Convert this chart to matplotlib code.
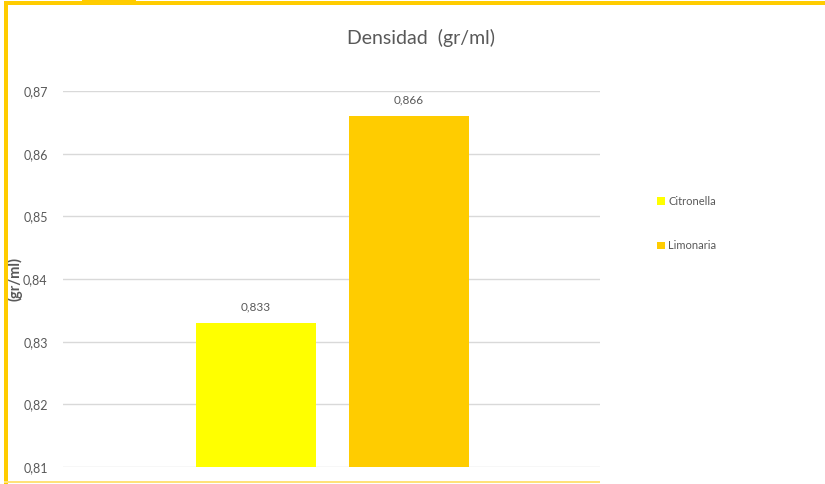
import matplotlib
matplotlib.use("Agg")
import matplotlib.pyplot as plt
import matplotlib.patches as patches
from matplotlib.ticker import FuncFormatter, MultipleLocator

# Data
series = ["Citronella", "Limonaria"]
values = [0.833, 0.866]
colors = ["#FFFF00", "#FFCC00"]
value_labels = ["0,833", "0,866"]

TEXT = "#595959"
GRID = "#D9D9D9"
BORDER = "#FFCC00"

plt.rcParams["font.family"] = ["Lato", "DejaVu Sans"]

fig = plt.figure(figsize=(8.25, 4.84), dpi=100)
ax = fig.add_axes([63 / 825, 1 - 467 / 484, (600 - 63) / 825, (467 - 91) / 484])

width = 120 / 153
positions = [0, 1]
for pos, val, col, name, lab in zip(positions, values, colors, series, value_labels):
    ax.bar(pos, val, width=width, color=col, label=name, zorder=3)
    ax.text(pos, val + 0.0017, lab, ha="center", va="bottom",
            fontsize=8.5, color=TEXT, zorder=4)

ax.set_xlim(0.5 - (332.5 - 63) / 153, 0.5 + (600 - 332.5) / 153)
ax.set_ylim(0.81, 0.87)
ax.yaxis.set_major_locator(MultipleLocator(0.01))
ax.yaxis.set_major_formatter(FuncFormatter(lambda v, p: f"{v:.2f}".replace(".", ",")))
ax.set_xticks([])
ax.tick_params(axis="y", length=0, pad=11, labelsize=9, labelcolor=TEXT)
ax.grid(axis="y", color=GRID, linewidth=1.0, zorder=0)
for s in ax.spines.values():
    s.set_visible(False)

ax.set_ylabel("(gr/ml)", fontsize=10.5, color=TEXT, fontweight="bold")
ax.yaxis.set_label_coords(-0.075, 0.5)

fig.text(421 / 825, 1 - 38 / 484, "Densidad  (gr/ml)", ha="center", va="center",
         fontsize=14, color=TEXT)

leg = fig.legend(handles=ax.patches[:2], labels=series, loc="upper left",
                 bbox_to_anchor=(647 / 825, 1 - 186 / 484), frameon=False,
                 fontsize=8, labelcolor=TEXT, handlelength=0.7, handleheight=0.7,
                 handletextpad=0.3, labelspacing=3.0)

# Yellow frame around the chart
def frame(x0, y0, w, h, color=BORDER):
    fig.add_artist(patches.Rectangle((x0 / 825, 1 - (y0 + h) / 484), w / 825, h / 484,
                                     transform=fig.transFigure, facecolor=color,
                                     edgecolor="none", zorder=10))

frame(4, 1, 821, 4)      # top
frame(4, 1, 4, 483)      # left
frame(82, 0, 54, 3)      # small tab
frame(4, 481, 596, 2, "#FFE27A")  # bottom

fig.savefig("out.png", dpi=100, facecolor="white")
